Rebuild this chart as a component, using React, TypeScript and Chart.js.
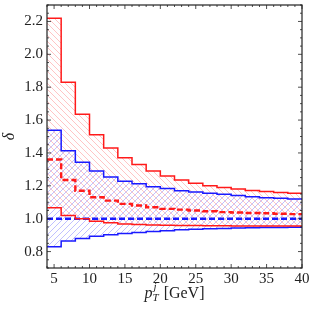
import React, { useEffect, useRef } from "react";
import { Chart, registerables } from "chart.js";

Chart.register(...registerables);

const edges = [4, 6, 8, 10, 12, 14, 16, 18, 20, 22, 24, 26, 28, 30, 32, 34, 36, 38, 40];
const redUpper = [2.22, 1.83, 1.635, 1.51, 1.43, 1.37, 1.33, 1.29, 1.26, 1.235, 1.215, 1.2, 1.19, 1.18, 1.172, 1.165, 1.16, 1.155];
const redLower = [1.066, 1.02, 1.0, 0.985, 0.975, 0.968, 0.964, 0.962, 0.96, 0.959, 0.958, 0.957, 0.957, 0.956, 0.955, 0.955, 0.955, 0.955];
const blueUpper = [1.538, 1.414, 1.343, 1.29, 1.254, 1.228, 1.213, 1.195, 1.183, 1.17, 1.162, 1.155, 1.148, 1.141, 1.134, 1.128, 1.124, 1.12];
const blueLower = [0.83, 0.865, 0.88, 0.893, 0.902, 0.91, 0.916, 0.922, 0.927, 0.932, 0.936, 0.939, 0.941, 0.943, 0.945, 0.946, 0.947, 0.948];
const redCentral = [1.36, 1.235, 1.17, 1.13, 1.11, 1.09, 1.08, 1.07, 1.06, 1.055, 1.05, 1.045, 1.04, 1.038, 1.035, 1.033, 1.03, 1.028];
const blueCentral = [1.0, 1.0, 1.0, 1.0, 1.0, 1.0, 1.0, 1.0, 1.0, 1.0, 1.0, 1.0, 1.0, 1.0, 1.0, 1.0, 1.0, 1.0];
const xTicks = [5, 10, 15, 20, 25, 30, 35, 40];
const yTicks = [0.8, 1.0, 1.2, 1.4, 1.6, 1.8, 2.0, 2.2];

const RED = "#ff1a1a";
const BLUE = "#1a1aff";
const FONT = "'Liberation Serif', 'DejaVu Serif', serif";

function toPoints(vals: number[]) {
  return edges.map((x, i) => ({ x, y: vals[Math.min(i, vals.length - 1)] }));
}

function hatch(color: string, dir: "back" | "fwd") {
  const s = 6;
  const c = document.createElement("canvas");
  c.width = s;
  c.height = s;
  const g = c.getContext("2d")!;
  g.strokeStyle = color;
  g.lineWidth = 0.9;
  for (const k of [-s, 0, s]) {
    g.beginPath();
    if (dir === "back") {
      g.moveTo(k, 0);
      g.lineTo(k + s, s);
    } else {
      g.moveTo(k, s);
      g.lineTo(k + s, 0);
    }
    g.stroke();
  }
  return g.createPattern(c, "repeat")!;
}

const framePlugin = {
  id: "frame",
  afterDatasetsDraw(chart: any) {
    const { ctx, chartArea: a, scales } = chart;
    const xs = scales.x;
    const ys = scales.y;
    ctx.save();
    ctx.strokeStyle = "#222";
    ctx.lineWidth = 1.2;
    ctx.strokeRect(a.left, a.top, a.right - a.left, a.bottom - a.top);
    ctx.lineWidth = 0.8;
    ctx.beginPath();
    for (let v = 4; v <= 40; v += 1) {
      const px = xs.getPixelForValue(v);
      const len = xTicks.includes(v) ? 4 : 2;
      ctx.moveTo(px, a.bottom);
      ctx.lineTo(px, a.bottom - len);
      ctx.moveTo(px, a.top);
      ctx.lineTo(px, a.top + len);
    }
    for (let i = 14; i <= 46; i++) {
      const v = i * 0.05;
      const py = ys.getPixelForValue(v);
      const len = i % 4 === 0 ? 4 : 2;
      ctx.moveTo(a.left, py);
      ctx.lineTo(a.left + len, py);
      ctx.moveTo(a.right, py);
      ctx.lineTo(a.right - len, py);
    }
    ctx.stroke();

    // x-axis title: p_T^j [GeV]
    ctx.fillStyle = "#222";
    ctx.textBaseline = "alphabetic";
    const big = `italic 16px ${FONT}`;
    const small = `italic 11px ${FONT}`;
    const reg = `16px ${FONT}`;
    ctx.font = big;
    const wp = ctx.measureText("p").width;
    ctx.font = small;
    const wsub = Math.max(ctx.measureText("T").width, ctx.measureText("j").width);
    ctx.font = reg;
    const wr = ctx.measureText(" [GeV]").width;
    const total = wp + wsub + 1 + wr;
    let x0 = (a.left + a.right) / 2 - total / 2;
    const base = 298;
    ctx.font = big;
    ctx.fillText("p", x0, base);
    x0 += wp;
    ctx.font = small;
    ctx.fillText("T", x0, base + 3);
    ctx.fillText("j", x0 + 1, base - 8);
    x0 += wsub + 1;
    ctx.font = reg;
    ctx.fillText(" [GeV]", x0, base);
    ctx.restore();
  },
};

export default function App() {
  const ref = useRef<HTMLCanvasElement>(null);
  useEffect(() => {
    document.body.style.margin = "0";
    const redHatch = hatch("rgb(255,190,190)", "back");
    const blueHatch = hatch("rgb(185,185,255)", "fwd");
    const common = { stepped: true as const, pointRadius: 0, borderJoinStyle: "miter" as const };
    const chart = new Chart(ref.current!, {
      type: "line",
      data: {
        datasets: [
          { ...common, data: toPoints(redUpper), borderColor: RED, borderWidth: 1.5, fill: "+1", backgroundColor: redHatch },
          { ...common, data: toPoints(redLower), borderColor: RED, borderWidth: 1.5, fill: false },
          { ...common, data: toPoints(blueUpper), borderColor: BLUE, borderWidth: 1.5, fill: "+1", backgroundColor: blueHatch },
          { ...common, data: toPoints(blueLower), borderColor: BLUE, borderWidth: 1.5, fill: false },
          { ...common, data: toPoints(redCentral), borderColor: RED, borderWidth: 2.4, borderDash: [6, 3], fill: false },
          { ...common, data: toPoints(blueCentral), borderColor: BLUE, borderWidth: 2.4, borderDash: [6, 3], fill: false },
        ],
      },
      options: {
        animation: false,
        responsive: false,
        layout: { padding: { top: 5, right: 13, left: 0, bottom: 0 } },
        plugins: {
          legend: { display: false },
          tooltip: { enabled: false },
          filler: { drawTime: "beforeDatasetsDraw" } as any,
        },
        scales: {
          x: {
            type: "linear",
            min: 4,
            max: 40,
            afterBuildTicks: (s: any) => {
              s.ticks = xTicks.map((v) => ({ value: v }));
            },
            afterFit: (s: any) => {
              s.height = 47;
              s.paddingLeft = 0;
              s.paddingRight = 0;
            },
            grid: { display: false, drawTicks: false },
            border: { display: false },
            ticks: {
              autoSkip: false,
              maxRotation: 0,
              padding: 2,
              color: "#222",
              font: { family: FONT, size: 15 },
            },
          },
          y: {
            type: "linear",
            min: 0.7,
            max: 2.3,
            afterBuildTicks: (s: any) => {
              s.ticks = yTicks.map((v) => ({ value: v }));
            },
            afterFit: (s: any) => {
              s.width = 47;
              s.paddingTop = 0;
              s.paddingBottom = 0;
            },
            grid: { display: false, drawTicks: false },
            border: { display: false },
            ticks: {
              padding: 4,
              color: "#222",
              font: { family: FONT, size: 15 },
              callback: (v: any) => Number(v).toFixed(1),
            },
            title: {
              display: true,
              text: "δ",
              color: "#222",
              padding: { top: 0, bottom: 0 },
              font: { family: FONT, size: 16, style: "italic" },
            },
          },
        },
      },
      plugins: [framePlugin],
    });
    return () => chart.destroy();
  }, []);
  return (
    <div style={{ width: 315, height: 315 }}>
      <canvas ref={ref} width={315} height={315} />
    </div>
  );
}
